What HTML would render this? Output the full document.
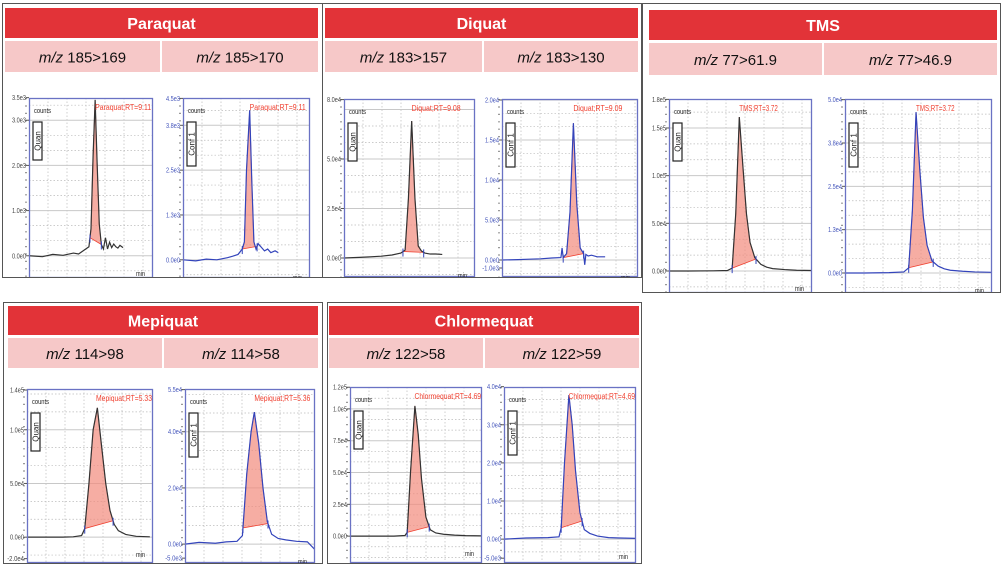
<!DOCTYPE html>
<html><head><meta charset="utf-8"><style>
html,body{margin:0;padding:0;background:#fff;overflow:hidden;width:1005px;height:564px;}
svg{display:block;font-family:"Liberation Sans",sans-serif;}
</style></head><body>
<svg id="s" width="1005" height="564" viewBox="0 0 1005 564" xmlns="http://www.w3.org/2000/svg">
<defs id="defs"></defs>
</svg>
<script>
// ---- data ----
const compoundNames = ["Paraquat","Diquat","TMS","Mepiquat","Chlormequat"];
const transitions = [["185>169","185>170"],["183>157","183>130"],["77>61.9","77>46.9"],["114>98","114>58"],["122>58","122>59"]];
const rtValues = [9.11,9.11,9.08,9.09,3.72,3.72,5.33,5.36,4.69,4.69];
const yTickVals = [
 [-500,0,1000,2000,3000,3500],
 [-500,0,1250,2500,3750,4500],
 [-10000,0,25000,50000,80000],
 [-1000,0,5000,10000,15000,20000],
 [-20000,0,50000,100000,150000,180000],
 [-5000,0,12500,25000,37500,50000],
 [-20000,0,50000,100000,137000],
 [-5000,0,20000,40000,55000],
 [-20000,0,25000,50000,75000,100000,117000],
 [-5000,0,10000,20000,30000,40000]];
const yTickLabels = [
 ["-5.0e2","0.0e0","1.0e3","2.0e3","3.0e3","3.5e3"],
 ["-5.0e2","0.0e0","1.3e3","2.5e3","3.8e3","4.5e3"],
 ["-1.0e4","0.0e0","2.5e4","5.0e4","8.0e4"],
 ["-1.0e3","0.0e0","5.0e3","1.0e4","1.5e4","2.0e4"],
 ["-2.0e4","0.0e0","5.0e4","1.0e5","1.5e5","1.8e5"],
 ["-5.0e3","0.0e0","1.3e4","2.5e4","3.8e4","5.0e4"],
 ["-2.0e4","0.0e0","5.0e4","1.0e5","1.4e5"],
 ["-5.0e3","0.0e0","2.0e4","4.0e4","5.5e4"],
 ["-2.0e4","0.0e0","2.5e4","5.0e4","7.5e4","1.0e5","1.2e5"],
 ["-5.0e3","0.0e0","1.0e4","2.0e4","3.0e4","4.0e4"]];
const traceT = [
 [8.47,8.6,8.7,8.8,8.9,8.95,9.0,9.05,9.07,9.09,9.11,9.13,9.15,9.17,9.19,9.21,9.23,9.25,9.27,9.29,9.31,9.33,9.35,9.38],
 [8.48,8.6,8.7,8.8,8.9,8.95,9.0,9.04,9.06,9.08,9.11,9.13,9.15,9.17,9.19,9.22,9.25,9.28,9.31,9.35,9.38],
 [8.46,8.6,8.7,8.8,8.9,8.98,9.02,9.05,9.08,9.11,9.14,9.17,9.2,9.25,9.3,9.36],
 [8.46,8.6,8.7,8.8,8.9,8.98,8.99,9.0,9.03,9.06,9.09,9.12,9.15,9.18,9.19,9.2,9.22,9.25,9.3,9.37],
 [3.13,3.3,3.5,3.62,3.66,3.69,3.72,3.75,3.78,3.81,3.85,3.9,3.95,4.0,4.1,4.2,4.33],
 [3.14,3.3,3.5,3.62,3.66,3.69,3.72,3.75,3.78,3.81,3.85,3.9,3.95,4.0,4.1,4.2,4.34],
 [4.66,4.8,5.0,5.1,5.18,5.21,5.25,5.29,5.33,5.37,5.41,5.45,5.49,5.53,5.6,5.7,5.83],
 [4.72,4.85,5.0,5.1,5.2,5.25,5.29,5.33,5.36,5.4,5.44,5.48,5.52,5.58,5.65,5.75,5.85,5.92],
 [4.10,4.3,4.5,4.6,4.62,4.65,4.69,4.72,4.75,4.79,4.83,4.88,4.95,5.05,5.15,5.3],
 [4.10,4.3,4.5,4.6,4.62,4.65,4.69,4.72,4.75,4.79,4.83,4.88,4.95,5.05,5.15,5.3]];
const traceY = [
 [0,-20,30,10,60,40,120,200,600,2200,3450,2000,700,250,150,400,150,300,180,260,200,170,230,180],
 [0,-30,20,0,60,100,150,300,500,2500,4170,2200,500,300,450,350,250,300,200,250,200],
 [0,300,600,900,1500,2500,4000,30000,69200,30000,6000,3500,2500,2000,2000,1800],
 [0,50,100,150,250,300,1500,300,800,6000,17100,7000,1500,800,-600,700,500,600,400,400],
 [0,0,200,500,3000,60000,161500,110000,60000,30000,14000,7000,4000,2500,1500,800,500],
 [0,0,100,300,1500,18000,46400,30000,16000,8000,3500,2000,1200,800,500,300,200],
 [0,0,0,300,1500,8000,50000,100000,120400,85000,50000,25000,12000,6000,2500,800,300],
 [0,600,300,800,1000,3000,25000,40000,47000,36000,20000,8000,3500,2000,1500,1000,800,-2000],
 [0,0,0,500,3000,50000,102300,80000,45000,15000,5000,2500,1500,800,400,200],
 [0,300,400,600,3000,20000,37800,30000,18000,7000,2500,1500,800,400,300,200]];
const fillStart = [9.06,9.04,9.0,9.0,3.66,3.66,5.21,5.255,4.62,4.62];
const fillEnd   = [9.17,9.18,9.19,9.18,3.86,3.86,5.48,5.486,4.82,4.81];
// axis config
const xDomains = [[8.47,9.67],[8.48,9.68],[8.46,9.66],[8.46,9.66],[3.13,4.33],[3.14,4.34],[4.66,5.86],[4.72,5.92],[4.10,5.30],[4.10,5.30]];
const yDomains = [[-492,3492],[-507,4511],[-9600,80300],[-2125,20125],[-23080,180400],[-5770,50190],[-24070,137960],[-6730,55220],[-21100,117190],[-6260,39910]];
// ---- layout ----
const boxes = [[2,3,320,274],[322,3,319,274],[642,3,358,289],[3,302,319,261],[327,302,314,261]];
const headers = [[5,8,313,30],[325,8,313,30],[649,10,348,30],[8,306,310,29],[329,306,310,29]];
const subs = [[5,41,313,31,161],[325,41,313,31,483],[649,43,348,32,823],[8,338,310,30,163],[329,338,310,30,484]];
const frames = [[29,98,124,180],[183,98,127,180],[344,99,131,178],[502,99,136,178],[669,99,143,194],[845,99,147,194],[27,389,126,174],[185,389,130,174],[350,387,132,176],[504,387,132,176]];
const NS="http://www.w3.org/2000/svg";
const svg=document.getElementById('s'), defs=document.getElementById('defs');
function mk(tag,attrs,parent){const e=document.createElementNS(NS,tag);for(const k in attrs)e.setAttribute(k,attrs[k]);(parent||svg).appendChild(e);return e;}

for(let b=0;b<5;b++){
  const g=mk('g',{});
  
  
  const bx=boxes[b];
  const box=mk('rect',{x:bx[0]+0.5,y:bx[1]+0.5,width:bx[2],height:bx[3],fill:'#fff',stroke:'#555','stroke-width':1},g);
  
  
  const h=headers[b];
  const hr=mk('rect',{x:h[0],y:h[1],width:h[2],height:h[3],fill:'#e23338'},g);
  
  
  const ht=mk('text',{x:h[0]+h[2]/2,y:h[1]+h[3]/2+6,'text-anchor':'middle','font-size':16,'font-weight':'bold',fill:'#fff'},g);
  ht.textContent=compoundNames[b];
  
  
  const s=subs[b];
  const cells=[[s[0],s[4]-1],[s[4]+1,s[0]+s[2]]];
  for(let c=0;c<2;c++){
    const r=mk('rect',{x:cells[c][0],y:s[1],width:cells[c][1]-cells[c][0],height:s[3],fill:'#f6c8c8'},g);
    
    
    const t=mk('text',{x:(cells[c][0]+cells[c][1])/2,y:s[1]+s[3]/2+6,'text-anchor':'middle','font-size':15,fill:'#111'},g);
    
    
    const it=mk('tspan',{'font-style':'italic'},t); it.textContent='m/z';
    const rt=mk('tspan',{},t); rt.textContent=' '+transitions[b][c];
  }
}

for(let i=0;i<10;i++){
  const fr=frames[i], b=Math.floor(i/2), bx=boxes[b], conf=i%2===1;
  const xd=xDomains[i], yd=yDomains[i];
  const X=t=>fr[0]+(t-xd[0])/(xd[1]-xd[0])*fr[2];
  const Y=v=>fr[1]+fr[3]-(v-yd[0])/(yd[1]-yd[0])*fr[3];
  const cpB=mk('clipPath',{id:'cb'+i},defs); mk('rect',{x:bx[0]+1,y:bx[1]+1,width:bx[2]-1,height:bx[3]-1},cpB);
  const cpF=mk('clipPath',{id:'cf'+i},defs); mk('rect',{x:fr[0],y:fr[1],width:fr[2],height:fr[3]},cpF);
  const g=mk('g',{'clip-path':'url(#cb'+i+')'});
  
  
  const inner=mk('g',{'clip-path':'url(#cf'+i+')'},g);
  for(let x=fr[0]+19;x<fr[0]+fr[2];x+=19) mk('line',{x1:x,y1:fr[1],x2:x,y2:fr[1]+fr[3],stroke:'#bbb','stroke-width':0.7,'stroke-dasharray':'1.5 2'},inner);
  const tv=yTickVals[i];
  const step=tv[2]-tv[1];
  const kMin=Math.ceil(yd[0]/(step/3)), kMax=Math.floor(yd[1]/(step/3));
  for(let k=kMin;k<=kMax;k++){
    const vv=k*step/3, y=Y(vv);
    if(y<fr[1]+1||y>fr[1]+fr[3]-1) continue;
    if(k%3===0) mk('line',{x1:fr[0],y1:y,x2:fr[0]+fr[2],y2:y,stroke:'#c8c8c8','stroke-width':1},inner);
    else mk('line',{x1:fr[0],y1:y,x2:fr[0]+fr[2],y2:y,stroke:'#bbb','stroke-width':0.7,'stroke-dasharray':'1.5 2'},inner);
  }
  const T=traceT[i], V=traceY[i];
  const interp=t=>{for(let j=1;j<T.length;j++){if(t<=T[j]){const f=(t-T[j-1])/(T[j]-T[j-1]);return V[j-1]+f*(V[j]-V[j-1]);}}return V[V.length-1];};
  const fs=fillStart[i], fe=fillEnd[i];
  let pts=[[X(fs),Y(interp(fs))]];
  for(let j=0;j<T.length;j++) if(T[j]>fs&&T[j]<fe) pts.push([X(T[j]),Y(V[j])]);
  pts.push([X(fe),Y(interp(fe))]);
  const fp=mk('polygon',{points:pts.map(p=>p.join(',')).join(' '),fill:'#f28a7c','fill-opacity':0.7,stroke:'#f04030','stroke-width':0.8},inner);
  
  
  const tr=mk('polyline',{points:T.map((t,j)=>X(t)+','+Y(V[j])).join(' '),fill:'none',stroke:conf?'#3344bb':'#333','stroke-width':1.2},inner);
  
  
  [fs,fe].forEach(t=>{const m=mk('line',{x1:X(t),y1:Y(interp(t))-3,x2:X(t),y2:Y(interp(t))+5,stroke:'#3344bb','stroke-width':1},inner);
    
    });
  const fb=mk('rect',{x:fr[0]+0.5,y:fr[1]+0.5,width:fr[2]-1,height:fr[3]-1,fill:'none',stroke:'#6a72c4','stroke-width':1.3},g);
  
  
  mk('line',{x1:fr[0]-3,y1:fr[1],x2:fr[0]-3,y2:fr[1]+fr[3],stroke:'#555','stroke-width':1.2,'stroke-dasharray':'1.2 6.2'},g);
  const lc=conf?'#4455bb':'#444';
  const bottomLimit=bx[1]+bx[3];
  tv.forEach((v,k)=>{
    const y=Y(v);
    if(y+3>bottomLimit) return;
    mk('line',{x1:fr[0]-3,y1:y,x2:fr[0],y2:y,stroke:'#555','stroke-width':1},g);
    const t=mk('text',{x:fr[0]-3,y:y+2.5,'text-anchor':'end','font-size':7,fill:lc,textLength:yTickLabels[i][k].length*2.8,lengthAdjust:'spacingAndGlyphs'},g);
    t.textContent=yTickLabels[i][k];
    
    
  });
  const ct=mk('text',{x:fr[0]+5,y:fr[1]+15,'font-size':7.5,fill:'#222',textLength:17,lengthAdjust:'spacingAndGlyphs'},g);
  ct.textContent='counts';
  
  
  const lab=conf?'Conf 1':'Quan';
  const lh=conf?44:38;
  const qb=mk('rect',{x:fr[0]+4,y:fr[1]+24,width:9,height:lh,fill:'#fff',stroke:'#222','stroke-width':1.2},g);
  
  
  const qt=mk('text',{x:0,y:0,'font-size':8,fill:'#222','text-anchor':'middle',transform:'translate('+(fr[0]+11.5)+','+(fr[1]+24+lh/2)+') rotate(-90)'},g);
  qt.textContent=lab;
  
  
  const rl=compoundNames[b]+';RT='+rtValues[i].toFixed(2);
  const rtx=Math.max(fr[0]+1,Math.min(X(rtValues[i]), fr[0]+fr[2]-rl.length*3.5-1));
  const rtt=mk('text',{x:rtx,y:fr[1]+12,'font-size':8,fill:'#f04030',textLength:rl.length*3.5,lengthAdjust:'spacingAndGlyphs'},g);
  rtt.textContent=rl;
  
  
  const mn=mk('text',{x:fr[0]+fr[2]-8,y:Y(0)+20,'font-size':7.5,fill:'#222','text-anchor':'end',textLength:9,lengthAdjust:'spacingAndGlyphs'},g);
  mn.textContent='min';
  
  
}
</script>
</body></html>
